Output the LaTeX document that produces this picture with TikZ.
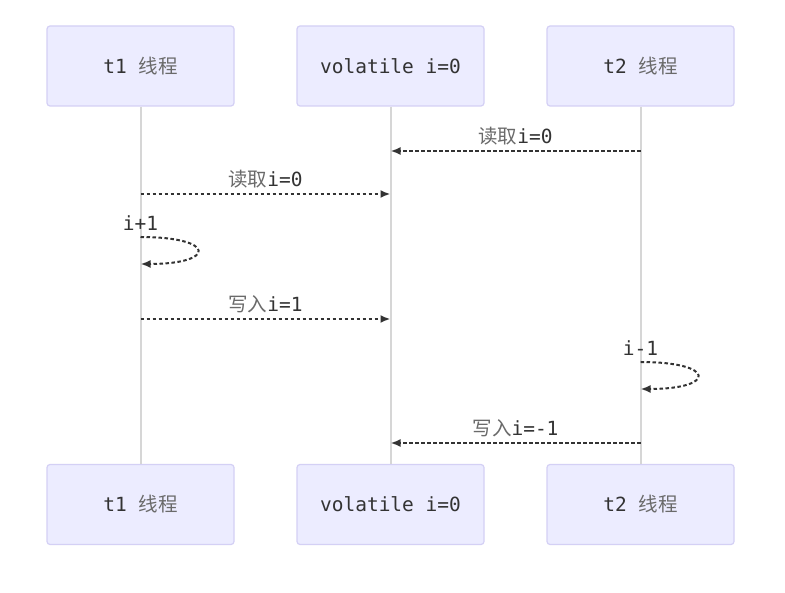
\documentclass[tikz,border=0pt]{standalone}
\usepackage{fontspec}
\usetikzlibrary{arrows.meta}
\setmonofont{DejaVu Sans Mono}
\newfontfamily\cjk{Noto Sans CJK SC}
\definecolor{actorfill}{HTML}{ECECFF}
\definecolor{actorline}{HTML}{D4D0F5}
\definecolor{lifeline}{HTML}{D6D6D6}
\definecolor{txt}{HTML}{333333}
\definecolor{zhtxt}{HTML}{6A6A6A}
\newcommand{\zh}[1]{{\cjk\color{zhtxt}#1}}
\tikzset{
  actor/.style={draw=actorline,fill=actorfill,line width=1.2pt,rounded corners=3pt,
    minimum width=187pt,minimum height=80pt,font=\fontsize{19.5}{23}\selectfont\ttfamily,text=txt},
  life/.style={draw=lifeline,line width=2pt},
  msg/.style={draw=txt,line width=2pt,dash pattern=on 3.5pt off 2.5pt,-{Latex[length=10pt,width=8pt]}},
  lbl/.style={font=\fontsize{19.5}{23}\selectfont\ttfamily,text=txt,inner sep=1pt}
}
\begin{document}
\begin{tikzpicture}[x=1pt,y=-1pt]
  \useasboundingbox[fill=white] (0,0) rectangle (785,593);
  % Teilnehmer oben
  \node[actor] (TopT1) at (140.5,66) {t1 \zh{线程}};
  \node[actor] (TopVol) at (390.5,66) {volatile i=0};
  \node[actor] (TopT2) at (640.5,66) {t2 \zh{线程}};

  % Teilnehmer unten
  \node[actor] (BotT1) at (140.5,504.5) {t1 \zh{线程}};
  \node[actor] (BotVol) at (390.5,504.5) {volatile i=0};
  \node[actor] (BotT2) at (640.5,504.5) {t2 \zh{线程}};

  % Lebenslinien
  \draw[life] (TopT1) to (BotT1);
  \draw[life] (TopVol) to (BotVol);
  \draw[life] (TopT2) to (BotT2);

  % Punkte auf den Lebenslinien
  \coordinate (T2a) at (640.5,151);
  \coordinate (Vola) at (390.5,151);
  \coordinate (T1b) at (140.5,194);
  \coordinate (Volb) at (390.5,194);
  \coordinate (T1c) at (140.5,237);
  \coordinate (T1d) at (140.5,264);
  \coordinate (T1e) at (140.5,319);
  \coordinate (Vole) at (390.5,319);
  \coordinate (T2f) at (640.5,362);
  \coordinate (T2g) at (640.5,389);
  \coordinate (T2h) at (640.5,443);
  \coordinate (Volh) at (390.5,443);

  % Nachrichten
  \draw[msg] (T2a) to node[lbl,above=4pt] (LeseA) {\zh{读取}i=0} (Vola);
  \draw[msg] (T1b) to node[lbl,above=4pt] (LeseB) {\zh{读取}i=0} (Volb);
  \node[lbl] (PlusEins) at (140.5,223) {i+1};
  \draw[msg] (T1c) .. controls +(76,0) and +(76,0) .. (T1d);
  \draw[msg] (T1e) to node[lbl,above=4pt] (SchreibA) {\zh{写入}i=1} (Vole);
  \node[lbl] (MinusEins) at (640.5,348) {i-1};
  \draw[msg] (T2f) .. controls +(76,0) and +(76,0) .. (T2g);
  \draw[msg] (T2h) to node[lbl,above=4pt] (SchreibB) {\zh{写入}i=-1} (Volh);
\end{tikzpicture}
\end{document}
